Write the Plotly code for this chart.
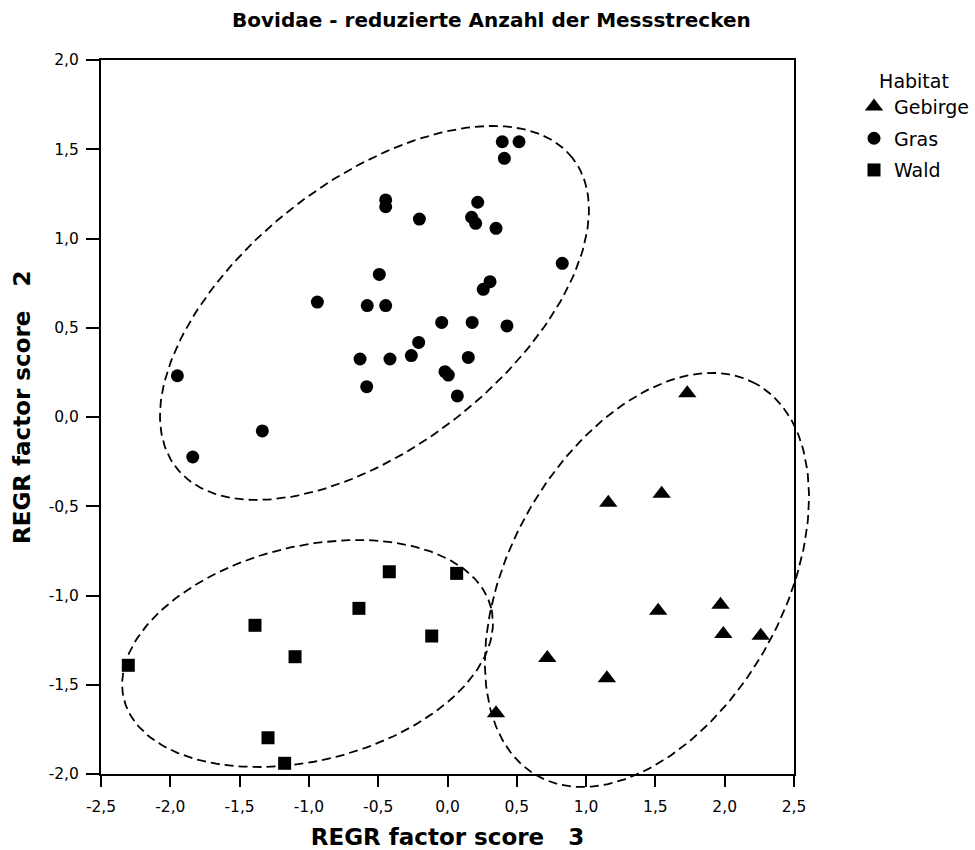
import numpy as np
import plotly.graph_objects as go

# ---- data: regression factor scores by habitat ----
# x = REGR factor score 3, y = REGR factor score 2
gebirge_x = [1.73, 1.545, 1.16, 1.52, 1.97, 1.99, 2.26, 0.72, 1.15, 0.35]
gebirge_y = [0.133, -0.43, -0.48, -1.085, -1.052, -1.216, -1.225, -1.35, -1.464, -1.66]

gras_x = [0.395, 0.516, 0.410, -0.446, -0.446, -0.203, 0.218, 0.174, 0.203, 0.350,
          0.828, -0.492, 0.307, 0.258, -0.939, -0.579, -0.446, -0.042, 0.178, 0.429,
          -0.208, -0.261, -0.631, -0.415, 0.150, -0.018, 0.006, -0.583, 0.071,
          -1.949, -1.336, -1.838]
gras_y = [1.542, 1.542, 1.449, 1.216, 1.178, 1.109, 1.203, 1.119, 1.085, 1.057,
          0.861, 0.799, 0.758, 0.715, 0.644, 0.624, 0.624, 0.530, 0.530, 0.510,
          0.418, 0.344, 0.325, 0.325, 0.334, 0.254, 0.235, 0.170, 0.118,
          0.231, -0.078, -0.224]

wald_x = [-2.303, -1.389, -1.100, -1.295, -1.175, -0.420, 0.066, -0.639, -0.114]
wald_y = [-1.391, -1.167, -1.343, -1.797, -1.940, -0.867, -0.876, -1.072, -1.227]

# group envelopes (Gras, Wald, Gebirge): centre and two conjugate semi-axes
ellipse_cx = [-0.527, -1.010, 1.439]
ellipse_cy = [0.583, -1.325, -0.913]
ellipse_major = [(1.430, 0.867), (1.325, 0.254), (0.789, 1.098)]
ellipse_minor = [(-0.591, 0.588), (-0.185, 0.583), (-0.863, 0.374)]

tick_x = [-2.5, -2.0, -1.5, -1.0, -0.5, 0.0, 0.5, 1.0, 1.5, 2.0, 2.5]
tick_y = [-2.0, -1.5, -1.0, -0.5, 0.0, 0.5, 1.0, 1.5, 2.0]


def de_label(v):
    return f"{v:.1f}".replace(".", ",")


# ---- page geometry ----
W, H = 975, 850
box_left, box_right, box_top, box_bottom = 101, 794, 60, 774
xdom = [box_left / W, box_right / W]
ydom = [(H - box_bottom) / H, (H - box_top) / H]
xr = [-2.5, 2.5]
yr = [-2.0, 2.0]


def widened(rng, dom):
    # same data scale, stretched over the whole page so outlines are not clipped
    span = (rng[1] - rng[0]) / (dom[1] - dom[0])
    return [rng[0] - dom[0] * span, rng[1] + (1 - dom[1]) * span]


FONT = "DejaVu Sans"
fig = go.Figure()

marker_common = dict(color="black", line=dict(width=0))
fig.add_trace(go.Scatter(x=gebirge_x, y=gebirge_y, mode="markers", name="Gebirge",
                         legendgroup="g1",
                         marker=dict(symbol="triangle-up", size=16, **marker_common)))
fig.add_trace(go.Scatter(x=gras_x, y=gras_y, mode="markers", name="Gras",
                         legendgroup="g2",
                         marker=dict(symbol="circle", size=13, **marker_common)))
fig.add_trace(go.Scatter(x=wald_x, y=wald_y, mode="markers", name="Wald",
                         legendgroup="g3",
                         marker=dict(symbol="square", size=13, **marker_common)))

t = np.linspace(0, 2 * np.pi, 241)
for cx, cy, (ax, ay), (bx, by) in zip(ellipse_cx, ellipse_cy, ellipse_major, ellipse_minor):
    fig.add_trace(go.Scatter(
        x=cx + ax * np.cos(t) + bx * np.sin(t),
        y=cy + ay * np.cos(t) + by * np.sin(t),
        mode="lines", xaxis="x2", yaxis="y2", showlegend=False, hoverinfo="skip",
        line=dict(color="black", width=1.8, dash="9px,5px")))

axis_common = dict(showgrid=False, zeroline=False, showline=True, mirror=True,
                   linecolor="black", linewidth=2, ticks="outside", tickwidth=2,
                   tickcolor="black", tickfont=dict(family=FONT, size=15.5, color="black"),
                   fixedrange=True, automargin=False)

fig.update_layout(
    template="none",
    width=W, height=H,
    margin=dict(l=0, r=0, t=0, b=0, pad=0),
    paper_bgcolor="white", plot_bgcolor="rgba(0,0,0,0)",
    font=dict(family=FONT, color="black"),
    title=dict(text="<b>Bovidae - reduzierte Anzahl der Messstrecken</b>",
               x=0.504, xanchor="center", y=1 - 20 / H, yanchor="middle",
               font=dict(family=FONT, size=20, color="black")),
    xaxis=dict(domain=xdom, range=xr, tickvals=tick_x, ticktext=[de_label(v) for v in tick_x],
               ticklen=11, ticklabelstandoff=6, anchor="y",
               title=dict(text="<b>REGR factor score\u00a0\u00a0\u00a03</b>", standoff=16,
                          font=dict(family=FONT, size=23, color="black")),
               **axis_common),
    yaxis=dict(domain=ydom, range=yr, tickvals=tick_y, ticktext=[de_label(v) for v in tick_y],
               ticklen=13, ticklabelstandoff=4, anchor="x",
               **axis_common),
    xaxis2=dict(domain=[0, 1], range=widened(xr, xdom), visible=False, anchor="y2",
                fixedrange=True, automargin=False),
    yaxis2=dict(domain=[0, 1], range=widened(yr, ydom), visible=False, anchor="x2",
                fixedrange=True, automargin=False),
    legend=dict(x=854 / W, y=1 - 63 / H, xanchor="left", yanchor="top",
                tracegroupgap=4,
                title=dict(text="Habitat", side="top center",
                           font=dict(family=FONT, size=19, color="black")),
                font=dict(family=FONT, size=19, color="black"),
                bgcolor="rgba(0,0,0,0)", borderwidth=0),
    showlegend=True,
)

# vertical axis title, placed beside the tick labels
fig.add_annotation(text="<b>REGR factor score\u00a0\u00a0\u00a02</b>", textangle=-90,
                   xref="paper", yref="paper", x=22 / W, y=1 - 408 / H,
                   xanchor="center", yanchor="middle", showarrow=False,
                   font=dict(family=FONT, size=23, color="black"))

fig.write_html("out.html")
